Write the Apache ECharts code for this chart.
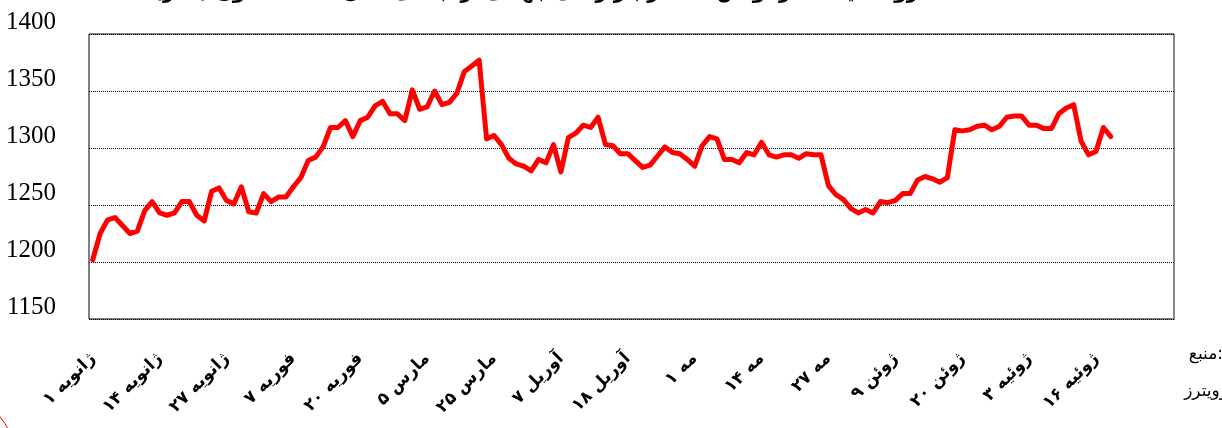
<!DOCTYPE html>
<html>
<head>
<meta charset="utf-8">
<script src="https://cdn.jsdelivr.net/npm/echarts@6/dist/echarts.min.js"></script>
<style>
html,body{margin:0;padding:0;background:#fff;}
#chart{width:1222px;height:428px;}
</style>
</head>
<body>
<div id="chart"></div>
<script>
// Tick labels (one every 9 trading days)
const tickLabels = ['ژانویه ۱','ژانویه ۱۴','ژانویه ۲۷','فوریه ۷','فوریه ۲۰','مارس ۵','مارس ۲۵','آوریل ۷','آوریل ۱۸','مه ۱','مه ۱۴','مه ۲۷','ژوئن ۹','ژوئن ۲۰','ژوئیه ۳','ژوئیه ۱۶'];
const labelEvery = 9;
const totalSlots = 146;

// Gold price (USD per ounce)
const prices = [
 1202,1225,1237,1239,1232,1225,1227,1245,1253,1243,
 1241,1243,1253,1253,1241,1236,1262,1265,1254,1251,
 1266,1244,1243,1260,1253,1257,1257,1266,1274,1289,
 1292,1301,1318,1318,1324,1310,1324,1327,1337,1341,
 1330,1330,1324,1351,1334,1336,1350,1338,1340,1348,
 1367,1372,1377,1308,1311,1303,1291,1286,1284,1280,
 1290,1287,1303,1279,1309,1313,1320,1318,1327,1303,
 1302,1295,1295,1289,1283,1285,1293,1301,1296,1295,
 1290,1284,1302,1310,1308,1290,1290,1287,1296,1294,
 1305,1294,1292,1294,1294,1291,1295,1294,1294,1267,
 1259,1255,1247,1243,1246,1243,1253,1252,1254,1260,
 1260,1272,1275,1273,1270,1274,1316,1315,1316,1319,
 1320,1316,1319,1327,1328,1328,1320,1320,1317,1317,
 1330,1335,1338,1306,1294,1297,1318,1310
];

const yMin = 1150, yMax = 1400, yStep = 50;

const titleText = 'روند قیمت هر اونس طلا در بازارهای جهانی از ابتدای سال ۲۰۱۹ تاکنون (دلار)';
const sourceLabel = 'منبع:';
const sourceName = 'رویترز';

const categories = [];
for (let i = 0; i < totalSlots; i++) {
  const k = i / labelEvery;
  categories.push(i % labelEvery === 0 && tickLabels[k] ? tickLabels[k] : '');
}

const chart = echarts.init(document.getElementById('chart'), null, {renderer: 'canvas'});
chart.setOption({
  animation: false,
  backgroundColor: '#fff',
  grid: {left: 89, right: 48, top: 34, bottom: 109, show: true, borderColor: '#000', borderWidth: 1, backgroundColor: '#fff'},
  xAxis: {
    type: 'category',
    data: categories,
    boundaryGap: true,
    axisLine: {show: false},
    axisTick: {show: false},
    splitLine: {show: false},
    axisLabel: {
      interval: function (i) { return i % labelEvery === 0; },
      formatter: function (v) { return v; },
      rotate: 45,
      margin: 37,
      color: '#000',
      fontFamily: 'DejaVu Sans',
      fontWeight: 'bold',
      fontSize: 17
    }
  },
  yAxis: {
    type: 'value',
    min: yMin, max: yMax, interval: yStep,
    axisLine: {show: false},
    axisTick: {show: false},
    axisLabel: {
      color: '#000', fontFamily: 'Liberation Serif', fontSize: 25, margin: 33,
      verticalAlign: 'bottom', lineHeight: 24,
      formatter: function (v) { return String(v); }
    },
    splitLine: {lineStyle: {type: 'dotted', color: '#000', width: 1}}
  },
  series: [{
    type: 'line',
    data: prices,
    symbol: 'none',
    lineStyle: {color: '#ff0000', width: 5, join: 'round', cap: 'round'},
    itemStyle: {color: '#ff0000'}
  }],
  graphic: [
    {type: 'line', shape: {x1: 1174, y1: 34, x2: 1174, y2: 320}, style: {stroke: '#888', lineWidth: 2}},
    {type: 'text', x: 536, y: 3, style: {text: titleText, align: 'center', verticalAlign: 'bottom', font: 'bold 20px "DejaVu Sans"', fill: '#000'}},
    {type: 'text', x: 1223, y: 355, style: {text: sourceLabel, align: 'right', verticalAlign: 'middle', font: '17px "DejaVu Sans"', fill: '#000'}},
    {type: 'text', x: 1228, y: 392, style: {text: sourceName, align: 'right', verticalAlign: 'middle', font: '17px "DejaVu Sans"', fill: '#000'}},
    {type: 'circle', shape: {cx: -80, cy: 480, r: 102}, style: {fill: 'none', stroke: '#ff0000', lineWidth: 1}}
  ]
});
</script>
</body>
</html>
